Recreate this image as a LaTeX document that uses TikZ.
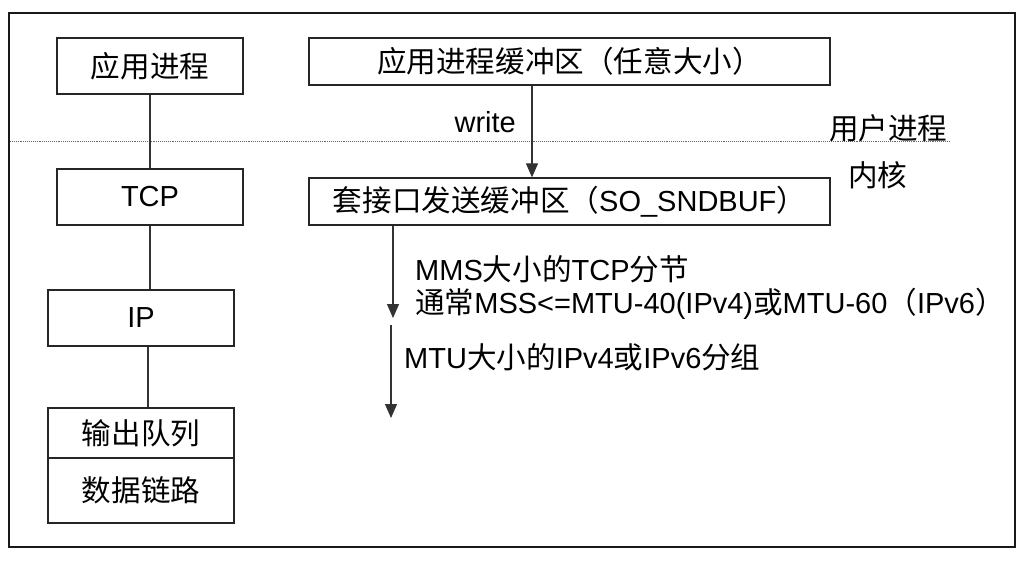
\documentclass[tikz,border=0pt]{standalone}
\usepackage{fontspec}
\setmainfont{Liberation Sans}
\newfontfamily\cjk[Scale=1.02]{Noto Sans CJK SC}
\usetikzlibrary{arrows.meta}
\newcommand{\zh}[1]{{\cjk #1}}
\begin{document}
\begin{tikzpicture}[x=1pt,y=-1pt,
  txt/.style={font=\fontsize{29}{33}\selectfont, inner sep=0pt},
  box/.style={draw=black!85, line width=1.3pt, inner sep=0pt, txt},
  conn/.style={draw=black!80, line width=1.2pt},
  arr/.style={conn, -{Triangle[width=12pt,length=14pt]}}]
\useasboundingbox (0,0) rectangle (1025,560);
\draw[line width=2.4pt, draw=black!90] (9,13) rectangle (1015,547);
\draw[densely dotted, draw=black!60, line width=0.9pt] (10,141) -- (950,141);
% left stack
\node[box, minimum width=186pt, minimum height=56pt] (app) at (150,66) {\zh{应用进程}};
\node[box, minimum width=186pt, minimum height=56pt] (tcp) at (150,197) {TCP};
\node[box, minimum width=186pt, minimum height=56pt] (ip) at (141,318) {IP};
\node[box, minimum width=186pt, minimum height=50pt] (que) at (141,433) {\zh{输出队列}};
\node[box, minimum width=186pt, minimum height=65pt] (dl) at (141,490.5) {\zh{数据链路}};
\draw[conn] (app.south) -- (tcp.north);
\draw[conn] (tcp.south) -- (tcp.south |- ip.north);
\draw[conn] ([xshift=7pt]ip.south) -- ([xshift=7pt]que.north);
% right side
\node[box, minimum width=521pt, minimum height=47pt] (buf) at (569.5,61.5) {\zh{应用进程缓冲区（任意大小）}};
\node[box, minimum width=521pt, minimum height=47pt] (sock) at (569.5,201.5) {\zh{套接口发送缓冲区（}SO\_SNDBUF\zh{）}};
\draw[arr] ([xshift=-37.5pt]buf.south) -- ([xshift=-37.5pt]sock.north);
\node[txt, anchor=east] (write) at (516,122) {write};
\node[txt, anchor=west] (user) at (829,128) {\zh{用户进程}};
\node[txt, anchor=west] (kern) at (848,175) {\zh{内核}};
\coordinate (a1e) at (393,318);
\coordinate (a2s) at (391,325);
\coordinate (a2e) at (391,418);
\draw[arr] (sock.south -| a1e) -- (a1e);
\draw[arr] (a2s) -- (a2e);
\node[txt, anchor=west] (t1) at (415,269) {MMS\zh{大小的}TCP\zh{分节}};
\node[txt, anchor=west] (t2) at (415,304) {\zh{通常}MSS<=MTU-40(IPv4)\zh{或}MTU-60\zh{（}IPv6\zh{）}};
\node[txt, anchor=west] (t3) at (404,357) {MTU\zh{大小的}IPv4\zh{或}IPv6\zh{分组}};
\end{tikzpicture}
\end{document}
